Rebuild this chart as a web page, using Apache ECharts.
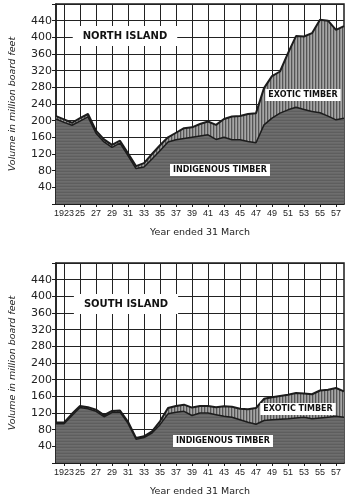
<!DOCTYPE html>
<html><head><meta charset="utf-8">
<script src="https://cdn.jsdelivr.net/npm/echarts@6/dist/echarts.min.js"></script>
<style>html,body{margin:0;padding:0;background:#fff}#c{width:349px;height:500px}</style>
</head><body><div id="c"></div>
<script>
// Years ended 31 March
const years = ['1922','1923','1924','1925','1926','1927','1928','1929','1930','1931','1932','1933','1934','1935','1936','1937','1938','1939','1940','1941','1942','1943','1944','1945','1946','1947','1948','1949','1950','1951','1952','1953','1954','1955','1956','1957','1958'];
// tick labels shown at odd years
const tickLabels = {'1923':'1923','1925':'25','1927':'27','1929':'29','1931':'31','1933':'33','1935':'35','1937':'37','1939':'39','1941':'41','1943':'43','1945':'45','1947':'47','1949':'49','1951':'51','1953':'53','1955':'55','1957':'57'};
const yTicks = [40,80,120,160,200,240,280,320,360,400,440];

// North Island (million board feet)
const northTotal = [211,203,195,206,216,176,155,142,152,122,91,98,120,141,160,171,182,184,192,198,190,204,210,211,216,218,278,307,318,362,403,402,410,442,440,418,427];
const northIndigenous = [204,196,189,199,209,170,149,136,146,116,85,89,108,128,149,154,157,160,163,166,155,160,154,154,150,147,190,206,218,226,232,227,222,219,211,202,206];

// South Island (million board feet)
const southTotal = [97,97,118,137,134,128,115,125,126,99,60,64,76,100,132,137,140,133,137,137,134,136,135,130,129,132,154,158,161,164,168,167,165,174,176,180,172];
const southIndigenous = [94,94,114,133,130,124,111,121,122,95,57,61,72,92,118,122,124,114,120,120,116,112,110,104,98,93,102,104,105,106,108,110,106,108,110,112,110];

function pattern(w, h, cols, vertical){
  const c = document.createElement('canvas'); c.width = w; c.height = h;
  const g = c.getContext('2d');
  cols.forEach((col, i) => { g.fillStyle = col; if (vertical) g.fillRect(i, 0, 1, h); else g.fillRect(0, i, w, 1); });
  return c;
}
const exoticFill = {image: pattern(3, 2, ['#555555', '#8e8e8e', '#a6a6a6'], true), repeat: 'repeat'};
const indigFill = {image: pattern(2, 3, ['#5e5e5e', '#6e6e6e', '#686868'], false), repeat: 'repeat'};

const FONT = 'DejaVu Sans';
const INK = '#1c1c1c';
const odd = (i) => i % 2 === 1;

function xAxis(gi){
  return {
    type: 'category', gridIndex: gi, data: years, boundaryGap: false,
    axisLine: {show: true, lineStyle: {color: INK, width: 1.5}},
    axisTick: {show: true, interval: odd, length: 3, lineStyle: {color: INK}},
    axisLabel: {interval: odd, hideOverlap: false, showMinLabel: true, formatter: v => tickLabels[v] || '', color: '#222', fontSize: 9, fontFamily: 'Liberation Sans', margin: 5},
    splitLine: {show: true, interval: odd, lineStyle: {color: '#222', width: 1}},
    name: 'Year ended 31 March', nameLocation: 'middle', nameGap: 24,
    nameTextStyle: {color: '#222', fontSize: 9.5, fontFamily: FONT}
  };
}
function yAxis(gi){
  return {
    type: 'value', gridIndex: gi, min: 0, max: 480, interval: 40,
    axisLine: {show: true, lineStyle: {color: INK, width: 1.5}},
    axisTick: {show: true, length: 4, lineStyle: {color: INK}},
    axisLabel: {formatter: v => yTicks.indexOf(v) >= 0 ? String(v) : '', color: '#222', fontSize: 11, fontFamily: FONT, margin: 4},
    splitLine: {show: true, lineStyle: {color: '#222', width: 1}},
    name: 'Volume in million board feet', nameLocation: 'middle', nameGap: 38,
    nameTextStyle: {color: '#222', fontSize: 9.5, fontStyle: 'italic', fontFamily: FONT}
  };
}
function area(gi, data, fill, lw, z){
  return {type: 'line', xAxisIndex: gi, yAxisIndex: gi, data: data, symbol: 'none', z: z,
    lineStyle: {color: INK, width: lw}, areaStyle: {color: fill, opacity: 1}, silent: true};
}
function label(x, y, text, font){
  return {type: 'text', x: x, y: y, z: 100, style: {text: text, font: font, fill: '#111', backgroundColor: '#fff', padding: [2, 3], align: 'center', verticalAlign: 'middle'}};
}
function title(x, y, text){
  return {type: 'text', x: x, y: y, z: 100, style: {text: text, font: 'bold 10px ' + FONT, fill: '#111', backgroundColor: '#fff', padding: [5, 10], align: 'center', verticalAlign: 'middle'}};
}

const chart = echarts.init(document.getElementById('c'), null, {renderer: 'canvas'});
chart.setOption({
  animation: false,
  backgroundColor: '#fff',
  grid: [
    {left: 45, top: 4, width: 299, height: 200, show: true, borderColor: INK, borderWidth: 1.5, backgroundColor: 'transparent'},
    {left: 45, top: 263, width: 299, height: 200, show: true, borderColor: INK, borderWidth: 1.5, backgroundColor: 'transparent'}
  ],
  xAxis: [xAxis(0), xAxis(1)],
  yAxis: [yAxis(0), yAxis(1)],
  series: [
    area(0, northTotal, exoticFill, 2, 2),
    area(0, northIndigenous, indigFill, 1.5, 3),
    area(1, southTotal, exoticFill, 2, 2),
    area(1, southIndigenous, indigFill, 1.5, 3)
  ],
  graphic: [
    title(125, 36, 'NORTH ISLAND'),
    title(126, 304, 'SOUTH ISLAND'),
    label(303, 95, 'EXOTIC TIMBER', 'bold 8px ' + FONT),
    label(220, 170, 'INDIGENOUS TIMBER', 'bold 8px ' + FONT),
    label(298, 409, 'EXOTIC TIMBER', 'bold 8px ' + FONT),
    label(223, 441, 'INDIGENOUS TIMBER', 'bold 8px ' + FONT)
  ]
});
</script></body></html>
